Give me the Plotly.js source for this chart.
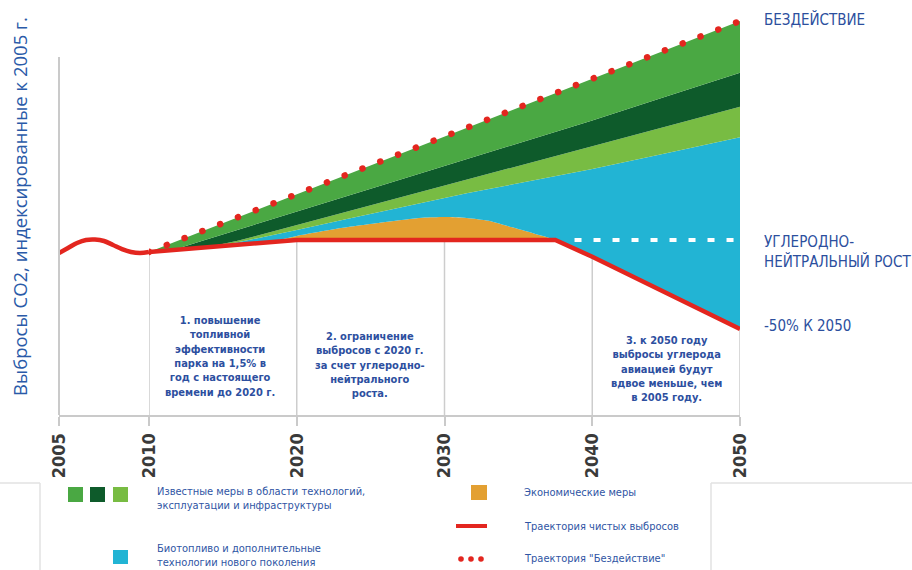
<!DOCTYPE html>
<html><head><meta charset="utf-8">
<script src="https://cdn.plot.ly/plotly-3.0.1.min.js"></script>
<style>
html,body{margin:0;padding:0;background:#fff;}
#chart{width:912px;height:570px;}
path.js-line[style*="0.1px"]{stroke-linecap:round;}
</style></head><body><div id="chart"></div>
<script>
// Net emissions 2005-2010 (index, 2005 = 100)
const earlyYears = [2005, 2005.5, 2006, 2006.5, 2007, 2007.5, 2008, 2008.5, 2009, 2009.5, 2010];
const earlyNet   = [100, 103.3, 106.6, 108.6, 108.9, 107.9, 105.3, 102.6, 100.7, 100.0, 100.7];

// 2010-2050 boundaries (index, 2005 = 100)
const years         = [2010, 2012, 2014, 2016, 2018, 2020, 2023, 2026, 2028.5, 2030, 2031.5, 2033, 2034.5, 2036, 2037.5, 2040, 2045, 2050];
const netTrajectory = [100.7, 102.3, 103.9, 105.4, 107.0, 108.6, 108.6, 108.6, 108.6, 108.6, 108.6, 108.6, 108.6, 108.6, 108.6, 97.5, 73.7, 50.0];
const economicTop   = [100.7, 102.3, 103.9, 105.4, 107.0, 111.2, 116.4, 120.4, 123.2, 123.7, 123.1, 121.2, 117.1, 113.0, 108.6, 97.5, 73.7, 50.0];
const biofuelTop    = [100.7, 102.3, 103.9, 107.0, 110.9, 115.1, 121.5, 127.8, 133.1, 136.3, 139.3, 142.1, 145.0, 147.8, 150.7, 155.3, 165.7, 176.1];
const lightGreenTop = [100.7, 102.3, 103.9, 108.0, 113.2, 118.4, 126.3, 134.2, 140.8, 144.8, 148.7, 152.6, 156.5, 160.3, 164.2, 170.4, 183.3, 196.2];
const darkGreenTop  = [100.7, 103.2, 109.2, 115.2, 121.2, 127.2, 136.2, 145.2, 152.7, 157.2, 161.7, 166.2, 170.7, 175.2, 179.7, 187.2, 202.9, 218.6];
const inaction      = [100.7, 108.3, 115.9, 123.5, 131.1, 138.7, 150.1, 161.5, 171.0, 176.6, 182.3, 188.1, 193.8, 199.5, 205.2, 214.6, 233.6, 252.6];

// Carbon-neutral growth reference
const cnYears  = [2038.8, 2050];
const cnLevel  = [108.6, 108.6];

const gridYears = [2010, 2020, 2030, 2040, 2050];
const yRange = [-6.58, 259.87];

const C = {
  red: '#e3261f', orange: '#e3a032', cyan: '#22b4d4',
  light: '#78bc43', dark: '#0e5b2b', mid: '#4aa843',
  blue: '#2d4f9f', grid: '#cdcdcd'
};

// Gridlines from axis to the net line
const gx = [], gy = [];
gridYears.forEach(yr => {
  const v = netTrajectory[years.indexOf(yr)];
  gx.push(yr, yr, null); gy.push(yRange[0], v, null);
});

const band = (y, color, shape) => ({
  x: years, y: y, xaxis: 'x2', yaxis: 'y', type: 'scatter', mode: 'lines',
  line: {width: 0, shape: shape || 'linear', smoothing: 0.7}, fill: 'tonexty', fillcolor: color, hoverinfo: 'skip'
});

const traces = [
  {x: gx, y: gy, xaxis: 'x2', yaxis: 'y', mode: 'lines', line: {color: C.grid, width: 1.5}, cliponaxis: false, hoverinfo: 'skip'},
  {x: years, y: netTrajectory, xaxis: 'x2', yaxis: 'y', mode: 'lines', line: {width: 0}, hoverinfo: 'skip'},
  band(economicTop, C.orange, 'spline'),
  band(biofuelTop, C.cyan),
  band(lightGreenTop, C.light),
  band(darkGreenTop, C.dark),
  band(inaction, C.mid),
  {x: cnYears, y: cnLevel, xaxis: 'x2', yaxis: 'y', mode: 'lines', line: {color: '#ffffff', width: 4, dash: '7px,12px'}, hoverinfo: 'skip'},
  {x: years, y: netTrajectory, xaxis: 'x2', yaxis: 'y', mode: 'lines', line: {color: C.red, width: 4.5}, cliponaxis: false, hoverinfo: 'skip'},
  {x: years, y: inaction, xaxis: 'x2', yaxis: 'y', mode: 'lines', line: {color: C.red, width: 6.5, dash: '0.1px,19px'}, cliponaxis: false, hoverinfo: 'skip'},
  {x: earlyYears, y: earlyNet, xaxis: 'x', yaxis: 'y', mode: 'lines', line: {color: C.red, width: 4.5, shape: 'spline'}, cliponaxis: false, hoverinfo: 'skip'}
];

const L = 59, R = 740, T = 10, B = 415;
const px = x => (x - L) / (R - L);
const py = y => (B - y) / (B - T);

const axisCommon = {
  showline: true, linecolor: '#cacaca', linewidth: 2,
  ticks: 'outside', ticklen: 9, tickwidth: 2, tickcolor: '#cacaca',
  tickangle: -90, showgrid: false, zeroline: false, fixedrange: true,
  tickfont: {family: '"DejaVu Sans Condensed", sans-serif', size: 18, color: '#3a3a3a', weight: 'bold'}
};

const noteFont = {family: '"DejaVu Sans Condensed", sans-serif', size: 11, color: C.blue, weight: 'bold'};
const legFont = {family: '"DejaVu Sans Condensed", sans-serif', size: 11, color: '#2f55a4'};
const labFont = {family: '"DejaVu Sans Condensed", sans-serif', size: 15, color: '#2c4f9e'};

const ann = (text, x, y, font, opts) => Object.assign({
  text: text, x: px(x), y: py(y), xref: 'paper', yref: 'paper', showarrow: false, font: font,
  xanchor: 'left', yanchor: 'middle', align: 'left'
}, opts || {});

const annotations = [
  ann('Выбросы CO2, индексированные к 2005 г.', 20, 207,
      {family: '"Open Sans", sans-serif', size: 18.5, color: '#2a5aa8'}, {textangle: -90, xanchor: 'center'}),
  ann('1. повышение<br>топливной<br>эффективности<br>парка на 1,5% в<br>год с настоящего<br>времени до 2020 г.', 220, 401, noteFont, {xanchor: 'center', yanchor: 'bottom', align: 'center'}),
  ann('2. ограничение<br>выбросов с 2020 г.<br>за счет углеродно-<br>нейтрального<br>роста.', 370, 402, noteFont, {xanchor: 'center', yanchor: 'bottom', align: 'center'}),
  ann('3. к 2050 году<br>выбросы углерода<br>авиацией будут<br>вдвое меньше, чем<br>в 2005 году.', 666, 406, noteFont, {xanchor: 'center', yanchor: 'bottom', align: 'center'}),
  ann('БЕЗДЕЙСТВИЕ', 762, 19, labFont),
  ann('УГЛЕРОДНО-<br>НЕЙТРАЛЬНЫЙ РОСТ', 762, 252, labFont),
  ann('-50% К 2050', 762, 326, labFont),
  ann('Известные меры в области технологий,<br>эксплуатации и инфраструктуры', 155, 498, legFont),
  ann('Биотопливо и дополнительные<br>технологии нового поколения', 155, 555, legFont),
  ann('Экономические меры', 522, 492, legFont),
  ann('Траектория чистых выбросов', 522, 526, legFont),
  ann('Траектория "Бездействие"', 522, 558, legFont)
];

const rect = (x0, y0, x1, y1, color) => ({type: 'rect', xref: 'paper', yref: 'paper',
  x0: px(x0), x1: px(x1), y0: py(y1), y1: py(y0), fillcolor: color, line: {width: 0}});
const seg = (x0, y0, x1, y1, color, w) => ({type: 'line', xref: 'paper', yref: 'paper',
  x0: px(x0), x1: px(x1), y0: py(y0), y1: py(y1), line: {color: color, width: w}});
const dot = (x, y, r, color) => ({type: 'circle', xref: 'paper', yref: 'paper',
  x0: px(x - r), x1: px(x + r), y0: py(y + r), y1: py(y - r), fillcolor: color, line: {width: 0}});

const shapes = [
  seg(59, 415, 59, 57, '#cacaca', 2),
  seg(0, 483, 40, 483, '#e2e2e2', 1.5), seg(40, 483, 40, 570, '#e2e2e2', 1.5),
  seg(711, 483, 912, 483, '#e2e2e2', 1.5), seg(711, 483, 711, 570, '#e2e2e2', 1.5),
  rect(68, 487, 83, 502, C.mid), rect(90, 487, 105, 502, C.dark), rect(113, 487, 128, 502, C.light),
  rect(113, 550, 128, 564, C.cyan),
  rect(471, 485, 487, 500, C.orange),
  seg(456, 526, 487, 526, C.red, 4),
  dot(461, 559, 2.8, C.red), dot(471, 559, 2.8, C.red), dot(481, 559, 2.8, C.red)
];

const layout = {
  width: 912, height: 570,
  margin: {l: L, r: 912 - R, t: T, b: 570 - B, pad: 0},
  paper_bgcolor: '#ffffff', plot_bgcolor: 'rgba(0,0,0,0)',
  showlegend: false,
  xaxis: Object.assign({}, axisCommon, {domain: [0, 90 / 681], range: [2005, 2010], tickvals: [2005], ticktext: ['2005'], anchor: 'y'}),
  xaxis2: Object.assign({}, axisCommon, {domain: [90 / 681, 1], range: [2010, 2050], tickvals: gridYears, ticktext: gridYears.map(String), anchor: 'y'}),
  yaxis: {range: yRange, showline: false, showgrid: false, zeroline: false, showticklabels: false, ticks: '', fixedrange: true},
  annotations: annotations,
  shapes: shapes
};

Plotly.newPlot('chart', traces, layout, {staticPlot: true, displayModeBar: false});
</script></body></html>
